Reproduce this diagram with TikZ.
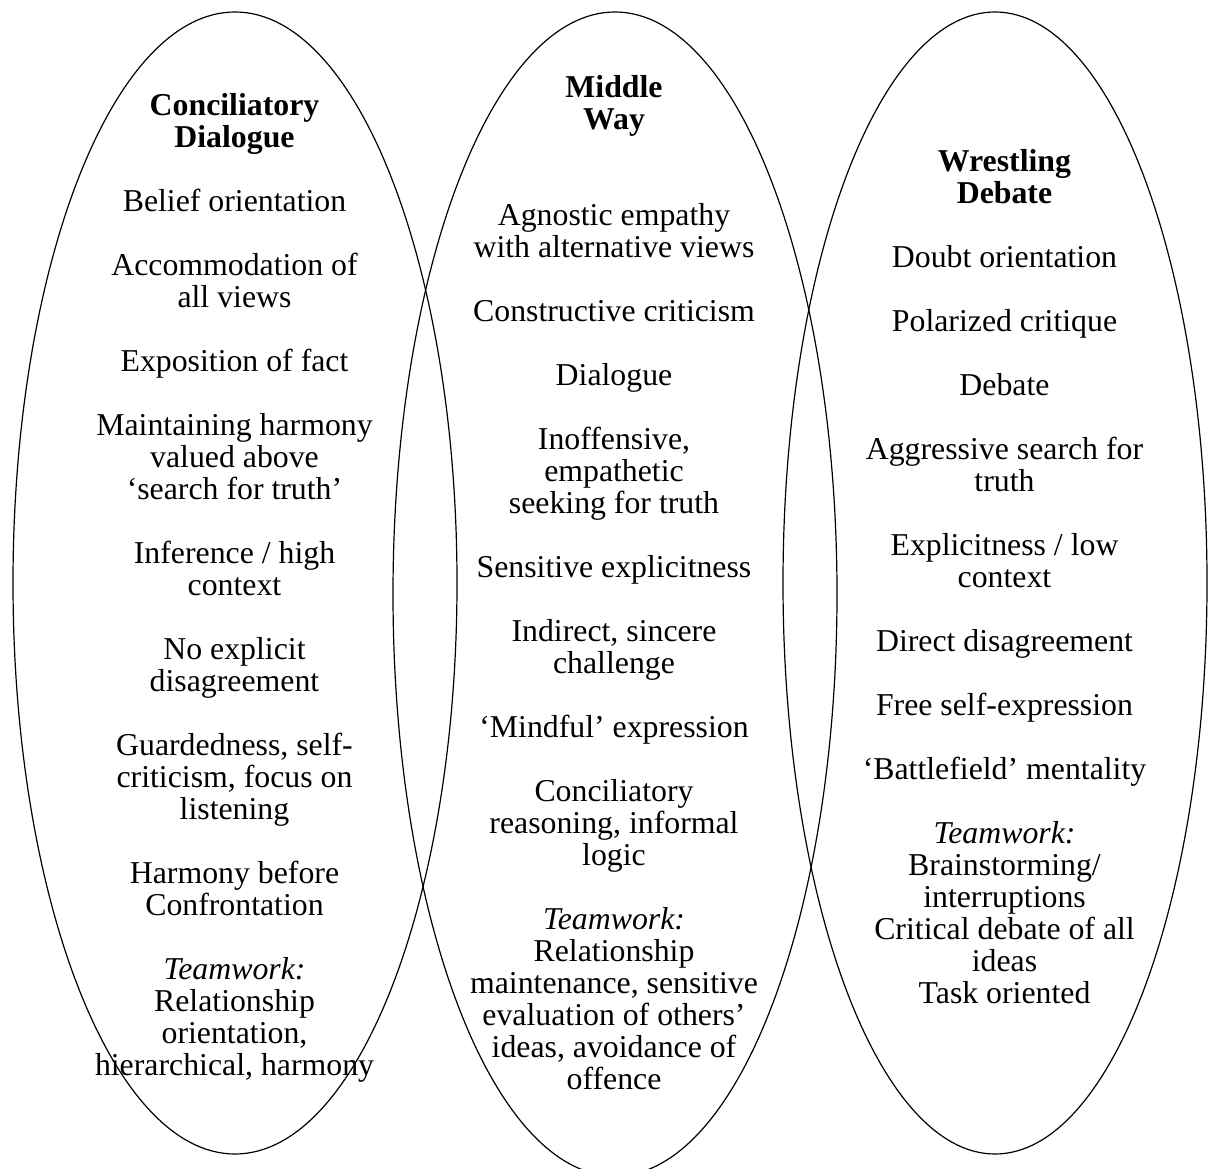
\documentclass[tikz,border=0pt]{standalone}
\usepackage{fontspec}
\setmainfont{Liberation Serif}
\usetikzlibrary{shapes.geometric}
\begin{document}
\begin{tikzpicture}[x=1pt,y=1pt,
  oval/.style={draw, ellipse, line width=1.2pt, inner sep=0pt},
  col/.style={align=center, anchor=north, inner sep=0pt, font=\fontsize{31.8}{32}\selectfont}]
\useasboundingbox (0,0) rectangle (1214,1168);
\node[oval, minimum width=444pt, minimum height=1142pt] (left) at (235,585) {};
\node[oval, minimum width=444pt, minimum height=1164pt] (mid) at (615,574) {};
\node[oval, minimum width=424pt, minimum height=1142pt] (right) at (995,585) {};
\node[col] (lefttext) at (234.5,1075.6) {\strut\textbf{Conciliatory}\\ \textbf{Dialogue}\\[32pt]
Belief orientation\\[32pt]
Accommodation of\\ all views\\[32pt]
Exposition of fact\\[32pt]
Maintaining harmony\\ valued above\\ ‘search for truth’\\[32pt]
Inference / high\\ context\\[32pt]
No explicit\\ disagreement\\[32pt]
Guardedness, self-\\ criticism, focus on\\ listening\\[32pt]
Harmony before\\ Confrontation\\[32pt]
\textit{Teamwork:}\\ Relationship\\ orientation,\\ hierarchical, harmony};
\node[col] (midtext) at (614,1092.8) {\strut\textbf{Middle}\\ \textbf{Way}\\[64pt]
Agnostic empathy\\ with alternative views\\[32pt]
Constructive criticism\\[32pt]
Dialogue\\[32pt]
Inoffensive,\\ empathetic\\ seeking for truth\\[32pt]
Sensitive explicitness\\[32pt]
Indirect, sincere\\ challenge\\[32pt]
‘Mindful’ expression\\[32pt]
Conciliatory\\ reasoning, informal\\ logic\\[32pt]
\textit{Teamwork:}\\ Relationship\\ maintenance, sensitive\\ evaluation of others’\\ ideas, avoidance of\\ offence};
\node[col] (righttext) at (1004.5,1018.8) {\strut\textbf{Wrestling}\\ \textbf{Debate}\\[32pt]
Doubt orientation\\[32pt]
Polarized critique\\[32pt]
Debate\\[32pt]
Aggressive search for\\ truth\\[32pt]
Explicitness / low\\ context\\[32pt]
Direct disagreement\\[32pt]
Free self-expression\\[32pt]
‘Battlefield’ mentality\\[32pt]
\textit{Teamwork:}\\ Brainstorming/\\ interruptions\\ Critical debate of all\\ ideas\\ Task oriented};
\end{tikzpicture}
\end{document}
